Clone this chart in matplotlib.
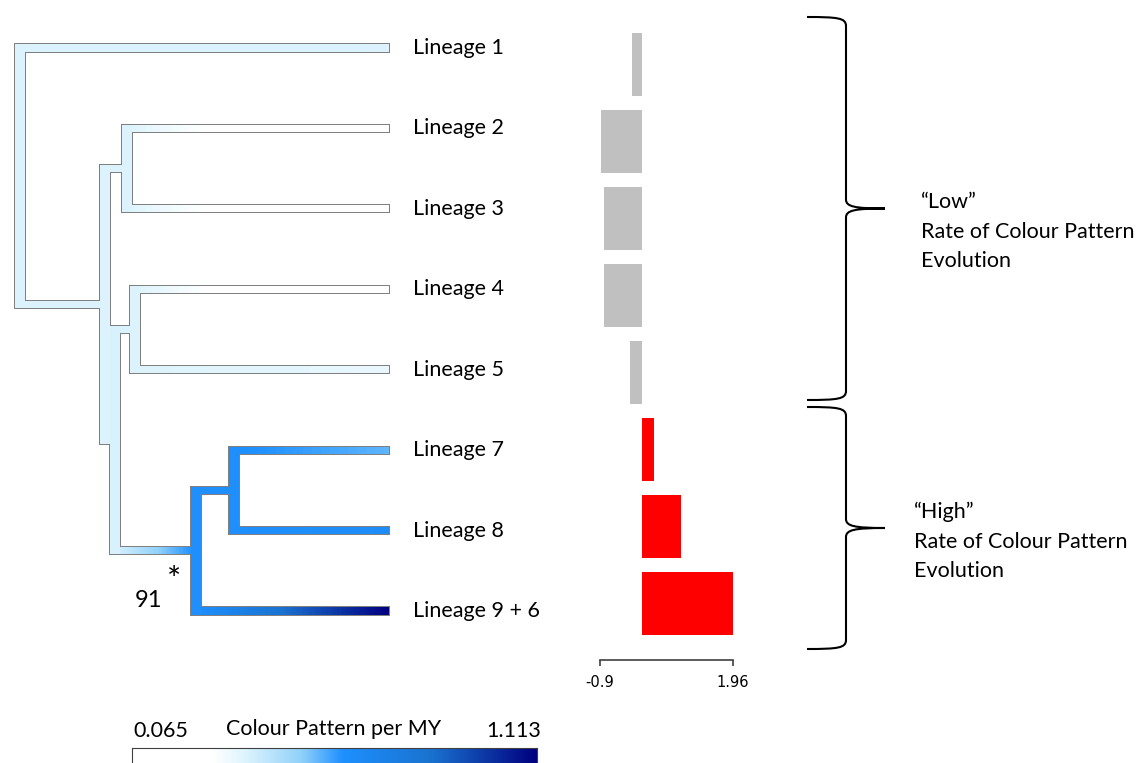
import numpy as np
import matplotlib
matplotlib.use('Agg')
from matplotlib import pyplot as plt
from matplotlib.colors import LinearSegmentedColormap, Normalize
from matplotlib.patches import Rectangle, PathPatch
from matplotlib.collections import PolyCollection
from matplotlib.path import Path

plt.rcParams['font.family'] = ['Lato', 'DejaVu Sans']

## tree data
tip_names = ['Lineage 1', 'Lineage 2', 'Lineage 3', 'Lineage 4', 'Lineage 5',
             'Lineage 7', 'Lineage 8', 'Lineage 9 + 6']
tip_rate = [0.36, 0.065, 0.065, 0.065, 0.33, 0.55, 0.64, 1.113]

node_names = ['root', 'A', 'n23', 'B', 'n45', 'C', 'n78']
node_depth = [0.0, 0.230, 0.290, 0.257, 0.313, 0.477, 0.580]
node_rate = [0.36, 0.36, 0.36, 0.37, 0.36, 0.62, 0.62]
node_children = [['t0', 'A'], ['n23', 'B'], ['t1', 't2'], ['n45', 'C'],
                 ['t3', 't4'], ['n78', 't7'], ['t5', 't6']]
support_label = '91'

## bar data
bar_rate = [-0.21, -0.88, -0.82, -0.81, -0.26, 0.27, 0.84, 1.96]
bar_ticks = [-0.9, 1.96]

rate_min, rate_max = 0.065, 1.113
cbar_title = 'Colour Pattern per MY'

W, H = 1142, 763
fig = plt.figure(figsize=(W/100, H/100), dpi=100)
PX = 0.72  # points per pixel


def px_axes(x0, y0, x1, y1):
    return fig.add_axes([x0/W, 1 - y1/H, (x1 - x0)/W, (y1 - y0)/H])


cmap = LinearSegmentedColormap.from_list('rate', [
    (0.0, '#ffffff'), (0.20, '#ffffff'), (0.28, '#ddf4fd'), (0.42, '#8fd0fa'),
    (0.52, '#1e90ff'), (0.74, '#1a72cf'), (1.0, '#00007f')])
norm = Normalize(rate_min, rate_max)

## tree
tree_box = (20, 48, 389, 611)
ax = px_axes(*tree_box)
ax.axis('off')
ux = 1.0 / (tree_box[2] - tree_box[0])          # one pixel in x units
uy = 7.0 / (tree_box[3] - tree_box[1])          # one pixel in y units

depth = {}
rate = {}
ypos = {}
for i in range(len(tip_names)):
    depth['t%d' % i] = 1.0
    rate['t%d' % i] = tip_rate[i]
    ypos['t%d' % i] = i
for n, d, r in zip(node_names, node_depth, node_rate):
    depth[n] = d
    rate[n] = r
kids = dict(zip(node_names, node_children))


def get_y(n):
    if n not in ypos:
        ypos[n] = np.mean([get_y(c) for c in kids[n]])
    return ypos[n]


for n in node_names:
    get_y(n)

outline = '#808080'
hx = 5.0  # half width of vertical fill, px
hy = 3.6  # half width of horizontal fill, px
ow = 1.0  # outline, px

for n in node_names:
    x = depth[n]
    ys = [ypos[c] for c in kids[n]]
    y0, y1 = min(ys), max(ys)
    ## vertical part
    ax.add_patch(Rectangle((x - (hx + ow) * ux, y0 - (hy + ow) * uy),
                           2 * (hx + ow) * ux, y1 - y0 + 2 * (hy + ow) * uy,
                           fc=outline, ec='none', zorder=1, clip_on=False))
    ax.add_patch(Rectangle((x - hx * ux, y0 - hy * uy), 2 * hx * ux,
                           y1 - y0 + 2 * hy * uy, fc=cmap(norm(rate[n])),
                           ec='none', zorder=3, clip_on=False))
    for c in kids[n]:
        tip = c.startswith('t')
        xe = depth[c]
        yc = ypos[c]
        ax.add_patch(Rectangle((x, yc - (hy + ow) * uy),
                               xe - x + (ow * ux if tip else 0),
                               2 * (hy + ow) * uy, fc=outline, ec='none',
                               zorder=1, clip_on=False))
        ## gradient along the branch, one strip per pixel
        k = max(int(round((xe - x) / ux)), 1)
        xs = np.linspace(x, xe, k + 1)
        vals = np.linspace(rate[n], rate[c], k)
        ya, yb = yc - hy * uy, yc + hy * uy
        quads = [[(xs[j], ya), (xs[j + 1], ya), (xs[j + 1], yb), (xs[j], yb)]
                 for j in range(k)]
        pc = PolyCollection(quads, facecolors=cmap(norm(vals)), edgecolors='none',
                            linewidths=0, antialiased=False, zorder=2, clip_on=False)
        ax.add_collection(pc)

ax.set_xlim(0, 1)
ax.set_ylim(7, 0)

for i, name in enumerate(tip_names):
    ax.annotate(name, xy=(1, i), xytext=(24 * PX, 0), textcoords='offset points',
                va='center', ha='left', fontsize=15.5, annotation_clip=False)

ax.annotate('*', xy=(depth['C'], ypos['C']), xytext=(-22 * PX, -30 * PX),
            textcoords='offset points', ha='center', va='center', fontsize=24,
            annotation_clip=False)
ax.annotate(support_label, xy=(depth['C'], ypos['C']), xytext=(-34 * PX, -50 * PX),
            textcoords='offset points', ha='right', va='center', fontsize=17,
            annotation_clip=False)

## bars
bx = px_axes(600, 20, 733, 660)
bcol = ['#c0c0c0' if v < 0 else '#ff0000' for v in bar_rate]
bx.barh(np.arange(len(bar_rate)), bar_rate, height=0.82, color=bcol)
bx.set_xlim(bar_ticks[0], bar_ticks[1])
bx.set_ylim(7.734, -0.578)
for s in ['top', 'right', 'left']:
    bx.spines[s].set_visible(False)
bx.spines['bottom'].set_color('#404040')
bx.spines['bottom'].set_linewidth(1.2)
bx.set_yticks([])
bx.set_xticks(bar_ticks)
bx.set_xticklabels(['-0.9', '1.96'], fontsize=10.5, family='DejaVu Sans')
bx.tick_params(axis='x', direction='out', length=4, width=1.2, color='#404040', pad=7)
bx.patch.set_alpha(0)

## overlay for braces and notes
ov = fig.add_axes([0, 0, 1, 1])
ov.set_xlim(0, W)
ov.set_ylim(H, 0)
ov.axis('off')


def brace(y0, y1, xl=807, xs=846, xt=885):
    ym = (y0 + y1) / 2.
    verts = [(xl, y0), (xs - 8, y0), (xs, y0 + 1), (xs, y0 + 9),
             (xs, ym - 9),
             (xs, ym - 2), (xs + 8, ym), (xt, ym),
             (xs + 8, ym), (xs, ym + 2), (xs, ym + 9),
             (xs, y1 - 9),
             (xs, y1 - 1), (xs - 8, y1), (xl, y1)]
    codes = [Path.MOVETO, Path.CURVE4, Path.CURVE4, Path.CURVE4,
             Path.LINETO,
             Path.CURVE4, Path.CURVE4, Path.CURVE4,
             Path.CURVE4, Path.CURVE4, Path.CURVE4,
             Path.LINETO,
             Path.CURVE4, Path.CURVE4, Path.CURVE4]
    ov.add_patch(PathPatch(Path(verts, codes), fill=False, lw=1.5, ec='black'))


brace(17, 400)
brace(407, 649)

notes = [['\u201cLow\u201d', 'Rate of Colour Pattern', 'Evolution'],
         ['\u201cHigh\u201d', 'Rate of Colour Pattern', 'Evolution']]
for (x0, y0), lines in zip([(921, 202), (914, 512)], notes):
    for j, t in enumerate(lines):
        ov.text(x0, y0 + 29.5 * j, t, ha='left', va='center', fontsize=15.5)

## colour scale
cx = px_axes(132, 748, 537, 790)
cx.imshow(np.linspace(0, 1, 256)[None, :], aspect='auto', cmap=cmap,
          extent=[rate_min, rate_max, 0, 1])
cx.set_xticks([])
cx.set_yticks([])
for s in cx.spines.values():
    s.set_color('#404040')
ov.text(133, 731, '%.3f' % rate_min, ha='left', va='center', fontsize=15.5)
ov.text(226, 729, cbar_title, ha='left', va='center', fontsize=15.5)
ov.text(541, 731, '%.3f' % rate_max, ha='right', va='center', fontsize=15.5)

fig.savefig('out.png', dpi=100)
